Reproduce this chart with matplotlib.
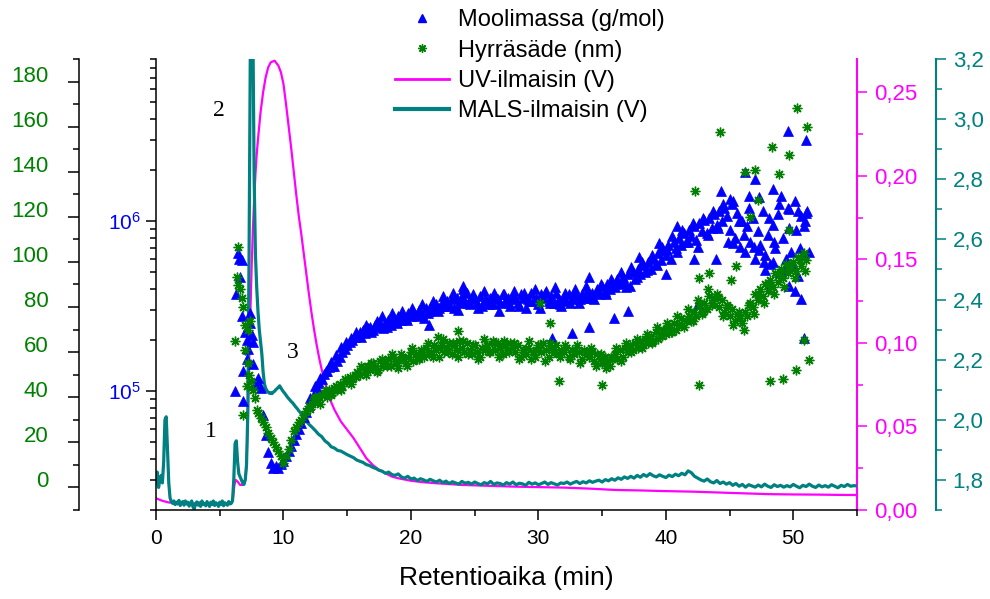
import numpy as np
import matplotlib
matplotlib.use("Agg")
import matplotlib.pyplot as plt
from matplotlib.ticker import MultipleLocator, FuncFormatter, FixedLocator, LogLocator, NullFormatter
from matplotlib.lines import Line2D

# ---------------- data ----------------
# Moolimassa (log10 g/mol): early points, regular-sampled band, second band, scattered points
mm_alku_t = [6.20, 6.28, 6.46, 6.52, 6.59, 6.72, 6.72, 6.85, 6.85, 6.98, 7.11, 7.11, 7.24, 7.38, 7.38, 7.50, 7.64, 7.64, 7.77, 7.90]
mm_alku_log = [5.00, 5.57, 5.81, 5.78, 5.67, 5.77, 5.44, 5.12, 4.94, 5.35, 5.30, 5.19, 5.25, 5.46, 5.40, 5.33, 5.29, 5.16, 5.04, 5.06]
mm_log = [
    5.08, 5.02, 4.86, 4.74, 4.64, 4.58, 4.55, 4.56, 4.55, 4.57,
    4.59, 4.62, 4.65, 4.68, 4.71, 4.75, 4.78, 4.81, 4.85, 4.88,
    4.92, 4.95, 4.98, 5.02, 5.05, 5.07, 5.10, 5.12, 5.14, 5.15,
    5.15, 5.18, 5.20, 5.23, 5.25, 5.27, 5.29, 5.30, 5.32, 5.33,
    5.35, 5.36, 5.34, 5.37, 5.38, 5.36, 5.39, 5.38, 5.40, 5.37,
    5.40, 5.42, 5.39, 5.43, 5.41, 5.44, 5.42, 5.45, 5.43, 5.46,
    5.44, 5.47, 5.45, 5.48, 5.46, 5.43, 5.49, 5.47, 5.50, 5.48,
    5.51, 5.49, 5.52, 5.50, 5.53, 5.51, 5.54, 5.49, 5.55, 5.52,
    5.56, 5.53, 5.58, 5.51, 5.55, 5.54, 5.52, 5.56, 5.50, 5.54,
    5.53, 5.55, 5.51, 5.56, 5.54, 5.52, 5.57, 5.53, 5.55, 5.50,
    5.56, 5.54, 5.52, 5.57, 5.55, 5.49, 5.54, 5.58, 5.53, 5.55,
    5.51, 5.57, 5.55, 5.59, 5.53, 5.56, 5.52, 5.58, 5.54, 5.50,
    5.55, 5.53, 5.57, 5.54, 5.58, 5.56, 5.52, 5.57, 5.55, 5.59,
    5.56, 5.58, 5.54, 5.60, 5.57, 5.62, 5.59, 5.63, 5.60, 5.64,
    5.61, 5.66, 5.63, 5.67, 5.64, 5.69, 5.62, 5.70, 5.66, 5.72,
    5.69, 5.74, 5.70, 5.76, 5.72, 5.78, 5.75, 5.81, 5.77, 5.83,
    5.80, 5.86, 5.78, 5.88, 5.84, 5.90, 5.86, 5.93, 5.88, 5.95,
    5.91, 5.97, 5.89, 5.99, 5.94, 6.01, 5.93, 6.02, 5.96, 6.04,
    5.98, 6.06, 6.00, 6.08, 6.03, 5.95, 6.10, 5.90, 6.05, 5.85,
    6.00, 5.82, 5.97, 5.88, 6.02, 5.78, 5.94, 5.86, 6.06, 5.80,
    5.92, 5.75, 5.98, 5.84, 6.04, 5.70, 5.90, 5.78, 6.08, 5.82,
    5.74, 5.95, 5.68, 6.03, 5.80, 6.05]
mm_log_2 = [
    4.96, 5.03, 5.08, 5.12, 5.17, 5.21, 5.26, 5.29, 5.31, 5.35,
    5.32, 5.39, 5.35, 5.41, 5.44, 5.38, 5.46, 5.40, 5.47, 5.42,
    5.49, 5.44, 5.51, 5.46, 5.53, 5.47, 5.56, 5.50, 5.58, 5.48,
    5.60, 5.52, 5.57, 5.49, 5.59, 5.51, 5.58, 5.47, 5.57, 5.52,
    5.59, 5.50, 5.58, 5.53, 5.60, 5.49, 5.58, 5.52, 5.61, 5.51,
    5.58, 5.52, 5.60, 5.54, 5.62, 5.55, 5.58, 5.63, 5.57, 5.66,
    5.64, 5.70, 5.61, 5.73, 5.67, 5.76, 5.71, 5.80, 5.74, 5.85,
    5.83, 5.91, 5.82, 5.95, 5.88, 5.99, 5.85, 6.02, 5.92, 6.06,
    5.96, 6.10, 5.88, 6.12, 6.00, 5.92, 6.08, 5.85, 6.14, 5.76,
    6.02, 5.88, 6.10, 5.72, 5.96, 6.12, 5.84, 6.00]
mm_haj_t = [49.56, 51.0, 46.2, 46.96, 44.3, 45.0, 46.5, 48.4, 49.0, 49.7, 50.4, 51.1, 50.8, 51.2, 50.6,
            50.8, 42.5, 45.3, 47.3, 48.4, 48.9, 50.1, 49.7, 47.8, 48.2, 43.9, 42.2, 40.9, 39.5, 40.0,
            37.9, 34.0, 32.6, 34.0, 35.9, 37.0, 24.1, 21.4, 31.05]
mm_haj_log = [6.53, 6.48, 6.29, 6.25, 6.18, 6.13, 6.15, 6.19, 6.15, 6.07, 6.06, 6.06, 5.97, 5.82, 5.54,
              5.31, 5.51, 5.87, 5.83, 5.76, 5.70, 5.59, 5.62, 5.71, 5.63, 5.78, 5.78, 5.97, 5.87, 5.69,
              5.79, 5.67, 5.34, 5.38, 5.43, 5.47, 5.62, 5.39, 5.31]

# Hyrräsäde (nm)
hs_alku_t = [6.20, 6.33, 6.41, 6.46, 6.59, 6.72, 6.85, 6.85, 6.98, 7.00, 7.11, 7.20, 7.24, 7.30, 7.38, 7.45, 7.60, 7.77, 7.90]
hs_alku = [65, 93.5, 106.6, 89.9, 88, 84, 80.2, 32.2, 72, 61, 44.8, 55, 70, 50, 74, 47, 43, 39.6, 34.4]
hs = [
    33, 31, 29, 27, 24, 22, 20, 18, 16, 14,
    11, 14, 17, 21, 25, 27, 29, 30, 32, 34,
    36, 37, 39, 38, 40, 41, 42, 40, 43, 42,
    44, 43, 46, 45, 48, 47, 49, 48, 50, 51,
    50, 53, 51, 54, 52, 55, 53, 52, 56, 54,
    55, 57, 54, 58, 56, 53, 59, 57, 55, 58,
    60, 56, 59, 57, 61, 58, 62, 59, 60, 63,
    61, 58, 63, 60, 62, 64, 59, 63, 61, 65,
    62, 60, 64, 61, 59, 63, 60, 58, 62, 61,
    63, 60, 65, 61, 64, 62, 59, 63, 61, 64,
    62, 60, 63, 58, 61, 59, 62, 57, 60, 61,
    63, 60, 64, 61, 58, 62, 60, 63, 59, 61,
    60, 62, 58, 61, 59, 63, 60, 57, 61, 59,
    58, 60, 56, 59, 57, 55, 58, 56, 54, 57,
    59, 57, 61, 58, 62, 60, 63, 61, 64, 62,
    65, 63, 66, 64, 67, 65, 69, 66, 68, 70,
    68, 71, 69, 73, 70, 72, 75, 71, 74, 76,
    74, 78, 76, 80, 77, 82, 79, 85, 81, 84,
    86, 80, 83, 78, 81, 76, 79, 74, 77, 75,
    73, 78, 76, 82, 80, 86, 83, 88, 85, 90,
    87, 92, 89, 95, 91, 97, 93, 99, 95, 98,
    100, 96, 102, 98, 104, 101]
hs_2 = [
    35, 40, 37, 43, 41, 45, 43, 47, 46, 49,
    54, 50, 55, 51, 57, 54, 59, 55, 58, 54,
    62, 57, 60, 64, 58, 62, 66, 60, 64, 58,
    65, 59, 63, 57, 66, 60, 64, 58, 65, 60,
    64, 57, 61, 65, 58, 63, 56, 64, 60, 58,
    63, 57, 61, 55, 60, 62, 54, 59, 53, 58,
    62, 56, 64, 60, 66, 62, 68, 64, 71, 67,
    73, 69, 76, 72, 79, 74, 83, 78, 88, 82,
    84, 76, 80, 72, 78, 70, 81, 77, 86, 82,
    90, 86, 94, 89, 97, 93, 101, 96]
hs_haj_t = [50.27, 51.05, 44.25, 48.33, 49.7, 46.2, 47.0, 48.9, 42.3, 47.2, 46.6, 49.7, 42.6, 48.2,
            49.2, 50.2, 51.2, 50.8, 35.0, 23.7, 31.6, 22.1, 30.1, 30.9, 42.6, 43.4, 45.1, 45.5]
hs_haj = [168.2, 160, 157.5, 150.9, 147.5, 140, 140.8, 139, 131.6, 127.5, 120, 114, 45.5, 47,
          48, 52, 56.6, 65.5, 45.5, 69.5, 47, 66.8, 81.8, 73, 93, 95, 92, 98]
aika_alku, aika_loppu = 8.0, 51.0      # sampling range of the main band
aika2_alku, aika2_loppu = 12.1, 50.9   # sampling range of the second band

# UV-ilmaisin (V)
uv_t = [0, 0.5, 1.0, 2, 3, 4, 5, 5.9, 6.05, 6.15, 6.25, 6.4, 6.6, 6.8, 7.0, 7.1, 7.2, 7.3, 7.4, 7.5,
        7.6, 7.7, 7.8, 7.9, 8.0, 8.2, 8.4, 8.6, 8.8, 9.0, 9.3, 9.6, 9.8, 10.0, 10.2, 10.4, 10.6, 10.8,
        11.0, 11.2, 11.4, 11.6, 11.8, 12.0, 12.2, 12.4, 12.6, 12.8, 13.0, 13.3, 13.6, 14.0, 14.5, 15.0,
        15.5, 16.0, 16.5, 17.0, 17.5, 18.0, 18.5, 19.0, 20, 21, 22, 24, 26, 28, 30, 32, 34, 36, 38, 40,
        42, 44, 46, 48, 50, 52, 54, 55]
uv_v = [0.007, 0.0055, 0.0045, 0.004, 0.004, 0.004, 0.004, 0.004, 0.008, 0.015, 0.018, 0.017, 0.015,
        0.015, 0.018, 0.026, 0.055, 0.088, 0.117, 0.145, 0.168, 0.186, 0.201, 0.213, 0.222, 0.238, 0.25,
        0.259, 0.265, 0.268, 0.269, 0.266, 0.262, 0.255, 0.243, 0.23, 0.217, 0.203, 0.189, 0.176, 0.165,
        0.153, 0.141, 0.129, 0.118, 0.108, 0.099, 0.091, 0.084, 0.075, 0.067, 0.06, 0.053, 0.048, 0.043,
        0.037, 0.031, 0.027, 0.024, 0.022, 0.020, 0.019, 0.0175, 0.0166, 0.016, 0.015, 0.0145, 0.014,
        0.0137, 0.0134, 0.0128, 0.012, 0.0117, 0.0113, 0.011, 0.0105, 0.010, 0.0095, 0.0093, 0.0092,
        0.009, 0.009]

# MALS-ilmaisin (V): 0-12 min every 0.1 min, 12.25-55 min every 0.25 min
mals_a = [
    1.79, 1.826, 1.775, 1.80, 1.815, 1.79, 1.86, 2.0, 2.01, 1.90,
    1.79, 1.74, 1.728, 1.722, 1.73, 1.718, 1.726, 1.72, 1.732, 1.715,
    1.724, 1.728, 1.716, 1.73, 1.72, 1.726, 1.713, 1.722, 1.73, 1.71,
    1.704, 1.72, 1.727, 1.716, 1.724, 1.712, 1.73, 1.718, 1.722, 1.714,
    1.728, 1.72, 1.712, 1.726, 1.718, 1.73, 1.715, 1.724, 1.72, 1.712,
    1.726, 1.718, 1.73, 1.714, 1.724, 1.72, 1.716, 1.728, 1.72, 1.722,
    1.73, 1.80, 1.92, 1.93, 1.86, 1.82, 1.81, 1.80, 1.79, 1.785,
    1.80, 1.85, 2.02, 2.55, 3.25, 3.6, 3.3, 2.8, 2.55, 2.44,
    2.36, 2.30, 2.26, 2.22, 2.16, 2.12, 2.105, 2.097, 2.092, 2.088,
    2.09, 2.087, 2.092, 2.095, 2.10, 2.104, 2.108, 2.113, 2.106, 2.099,
    2.093, 2.088, 2.082, 2.076, 2.071, 2.066, 2.061, 2.057, 2.052, 2.046,
    2.041, 2.036, 2.03, 2.025, 2.019, 2.013, 2.007, 2.002, 1.996, 1.99,
    1.985]
mals_b = [
    1.975, 1.964, 1.952, 1.944, 1.930, 1.922, 1.910, 1.906, 1.898, 1.896,
    1.89, 1.884, 1.879, 1.874, 1.866, 1.862, 1.858, 1.851, 1.848, 1.842,
    1.838, 1.832, 1.829, 1.822, 1.826, 1.818, 1.815, 1.82, 1.81, 1.806,
    1.812, 1.803, 1.806, 1.798, 1.804, 1.80, 1.795, 1.802, 1.797, 1.793,
    1.799, 1.791, 1.796, 1.788, 1.794, 1.79, 1.786, 1.795, 1.789, 1.792,
    1.786, 1.793, 1.788, 1.784, 1.791, 1.787, 1.795, 1.785, 1.79, 1.788,
    1.783, 1.791, 1.786, 1.793, 1.784, 1.789, 1.787, 1.782, 1.792, 1.786,
    1.79, 1.784, 1.788, 1.793, 1.785, 1.791, 1.787, 1.783, 1.79, 1.788,
    1.793, 1.786, 1.791, 1.795, 1.788, 1.794, 1.79, 1.797, 1.792, 1.796,
    1.799, 1.793, 1.801, 1.797, 1.804, 1.799, 1.807, 1.802, 1.81, 1.805,
    1.812, 1.806, 1.815, 1.809, 1.818, 1.812, 1.821, 1.814, 1.81, 1.817,
    1.812, 1.808, 1.816, 1.811, 1.819, 1.814, 1.822, 1.817, 1.83, 1.824,
    1.812, 1.806, 1.8, 1.796, 1.803, 1.794, 1.79, 1.798, 1.788, 1.793,
    1.786, 1.791, 1.782, 1.788, 1.779, 1.785, 1.776, 1.784, 1.78, 1.776,
    1.783, 1.777, 1.786, 1.779, 1.775, 1.784, 1.778, 1.782, 1.776, 1.781,
    1.777, 1.785, 1.779, 1.774, 1.782, 1.778, 1.786, 1.779, 1.775, 1.783,
    1.777, 1.781, 1.776, 1.784, 1.779, 1.774, 1.782, 1.778, 1.785, 1.779,
    1.781, 1.78]

labels = ["Moolimassa (g/mol)", "Hyrräsäde (nm)", "UV-ilmaisin (V)", "MALS-ilmaisin (V)"]
xlabel = "Retentioaika (min)"

# ---------------- style ----------------
plt.rcParams['font.family'] = ['Liberation Sans', 'DejaVu Sans']
plt.rcParams['mathtext.fontset'] = 'custom'
plt.rcParams['mathtext.rm'] = 'Liberation Sans'
plt.rcParams['mathtext.it'] = 'Liberation Sans:italic'
plt.rcParams['mathtext.default'] = 'regular'

BLUE = '#0000ff'
GREEN = '#008000'
MAG = '#ff00ff'
TEAL = '#008080'

fig = plt.figure(figsize=(9.9, 5.99), dpi=100)
fig.patch.set_facecolor('white')
ax = fig.add_axes([0.1576, 0.1486, 0.7081, 0.7529])
ax_g = ax.twinx()
ax_uv = ax.twinx()
ax_ms = ax.twinx()

ax_uv.set_zorder(1)
ax_ms.set_zorder(2)
ax.set_zorder(3)
ax_g.set_zorder(4)
ax.patch.set_visible(False)

# lines
mals_ta = np.linspace(0.0, 12.0, len(mals_a))
mals_tb = np.linspace(12.25, 55.0, len(mals_b))
ax_ms.plot(np.concatenate([mals_ta, mals_tb]), np.concatenate([mals_a, mals_b]),
           color=TEAL, lw=2.3, solid_joinstyle='round')
ax_uv.plot(uv_t, uv_v, color=MAG, lw=1.6)

# scatter
t_grid = np.linspace(aika_alku, aika_loppu, len(mm_log))
t_grid_2 = np.linspace(aika2_alku, aika2_loppu, len(mm_log_2))
mm_t = np.concatenate([mm_alku_t, t_grid, t_grid_2, mm_haj_t])
mm_v = 10 ** np.concatenate([mm_alku_log, mm_log, mm_log_2, mm_haj_log])
ax.plot(mm_t, mm_v, ls='none', marker='^', ms=7, color=BLUE, mec=BLUE, mew=0.5)

t_grid_g = np.linspace(aika_alku, aika_loppu, len(hs))
t_grid_g2 = np.linspace(aika2_alku, aika2_loppu, len(hs_2))
hs_t = np.concatenate([hs_alku_t, t_grid_g, t_grid_g2, hs_haj_t])
hs_v = np.concatenate([hs_alku, hs, hs_2, hs_haj])
ax_g.plot(hs_t, hs_v, ls='none', marker=(8, 2, 0), ms=7, mew=1.0, color=GREEN)

# ---- axes: x + blue log ----
ax.set_xlim(0, 55)
ax.set_yscale('log')
ax.set_ylim(2e4, 9e6)
ax.xaxis.set_major_locator(MultipleLocator(10))
ax.xaxis.set_minor_locator(MultipleLocator(5))
ax.tick_params(axis='x', which='major', direction='out', length=7, width=1.1, labelsize=15, pad=7)
ax.tick_params(axis='x', which='minor', direction='out', length=4, width=1.1)
ax.yaxis.set_major_locator(FixedLocator([1e5, 1e6]))
ax.yaxis.set_major_formatter(FuncFormatter(lambda v, p: r'$10^{%d}$' % round(np.log10(v))))
ax.yaxis.set_minor_locator(LogLocator(base=10, subs=np.arange(2, 10)))
ax.yaxis.set_minor_formatter(NullFormatter())
ax.tick_params(axis='y', which='major', direction='out', length=7, width=1.1, labelsize=15,
               labelcolor=BLUE, pad=4)
ax.tick_params(axis='y', which='minor', direction='out', length=4.5, width=1.1)
ax.set_xlabel(xlabel, fontsize=19, labelpad=13)
for s in ['top', 'right']:
    ax.spines[s].set_visible(False)
for s in ['left', 'bottom']:
    ax.spines[s].set_linewidth(1.1)

# ---- green axis ----
ax_g.set_ylim(-10, 190)
ax_g.spines['left'].set_position(('axes', -0.1098))
ax_g.yaxis.tick_left()
ax_g.yaxis.set_major_locator(MultipleLocator(20))
ax_g.yaxis.set_minor_locator(MultipleLocator(10))
ax_g.tick_params(axis='y', which='major', direction='out', length=8, width=1.1, labelsize=16,
                 labelcolor=GREEN, pad=14)
ax_g.tick_params(axis='y', which='minor', direction='out', length=4.5, width=1.1)
for s in ['top', 'right', 'bottom']:
    ax_g.spines[s].set_visible(False)
ax_g.spines['left'].set_visible(True)
ax_g.spines['left'].set_linewidth(1.1)
for lbl in ax_g.get_yticklabels():
    lbl.set_verticalalignment('baseline')

# ---- UV axis ----
ax_uv.set_ylim(0, 0.27)
ax_uv.yaxis.set_major_locator(MultipleLocator(0.05))
ax_uv.yaxis.set_minor_locator(MultipleLocator(0.025))
ax_uv.yaxis.set_major_formatter(FuncFormatter(lambda v, p: f'{v:.2f}'.replace('.', ',')))
ax_uv.tick_params(axis='y', which='major', direction='out', length=7, width=1.1, labelsize=16,
                  colors=MAG, pad=5)
ax_uv.tick_params(axis='y', which='minor', direction='out', length=4.5, width=1.1, colors=MAG)
for s in ['top', 'left', 'bottom']:
    ax_uv.spines[s].set_visible(False)
ax_uv.spines['right'].set_color(MAG)
ax_uv.spines['right'].set_linewidth(1.5)

# ---- MALS axis ----
ax_ms.set_ylim(1.7, 3.2)
ax_ms.spines['right'].set_position(('axes', 1.1127))
ax_ms.yaxis.set_major_locator(MultipleLocator(0.2))
ax_ms.yaxis.set_minor_locator(MultipleLocator(0.1))
ax_ms.yaxis.set_major_formatter(FuncFormatter(lambda v, p: f'{v:.1f}'.replace('.', ',')))
ax_ms.tick_params(axis='y', which='major', direction='out', length=7, width=1.1, labelsize=16,
                  colors=TEAL, pad=5)
ax_ms.tick_params(axis='y', which='minor', direction='out', length=4.5, width=1.1, colors=TEAL)
for s in ['top', 'left', 'bottom']:
    ax_ms.spines[s].set_visible(False)
ax_ms.spines['right'].set_color(TEAL)
ax_ms.spines['right'].set_linewidth(1.5)

# peak labels
for txt, tx, ty in [("1", 4.3, 0.0467), ("2", 4.94, 0.239), ("3", 10.75, 0.094)]:
    ax_uv.text(tx, ty, txt, fontsize=17, family=['Liberation Serif', 'DejaVu Serif'],
               ha='center', va='center', zorder=10)

# legend
handles = [Line2D([], [], ls='none', marker='^', ms=6, color=BLUE),
           Line2D([], [], ls='none', marker=(8, 2, 0), ms=6, mew=1.0, color=GREEN),
           Line2D([], [], color=MAG, lw=2),
           Line2D([], [], color=TEAL, lw=3)]
fig.legend(handles, labels, loc='upper left', bbox_to_anchor=(395 / 990, 1 - 9 / 599),
           frameon=False, fontsize=17, handlelength=2.3, handletextpad=0.35,
           labelspacing=0.36, borderpad=0, borderaxespad=0)

fig.savefig('out.png', dpi=100, facecolor='white')
